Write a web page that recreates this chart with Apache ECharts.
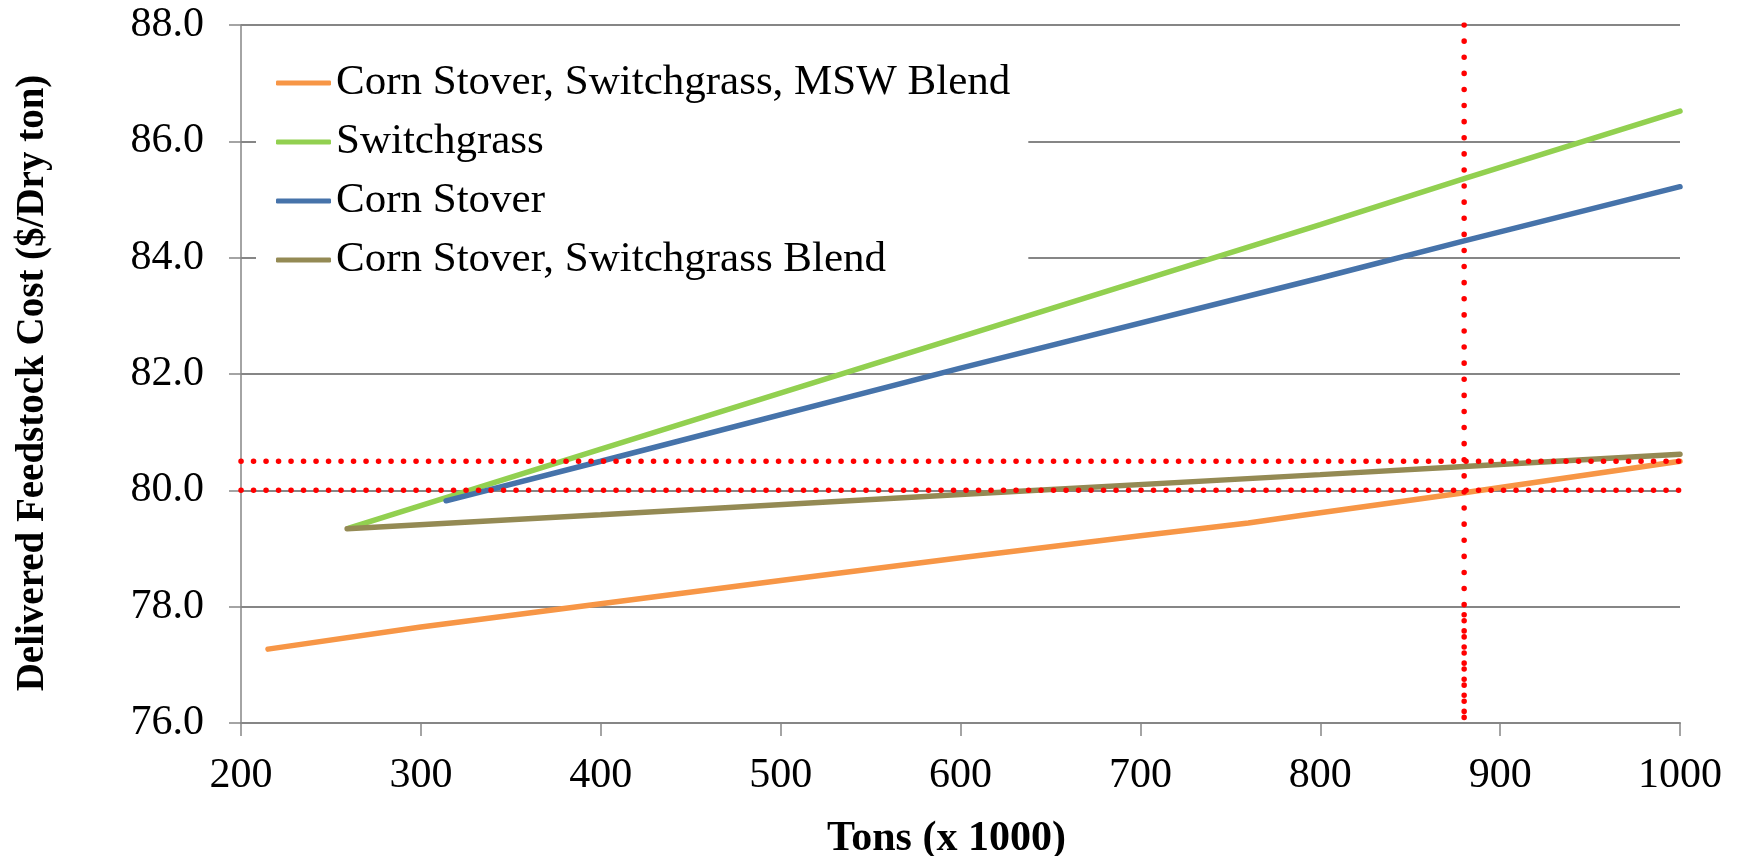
<!DOCTYPE html>
<html>
<head>
<meta charset="utf-8">
<title>Delivered Feedstock Cost</title>
<script src="https://cdn.jsdelivr.net/npm/echarts@6/dist/echarts.min.js"></script>
<style>
  html, body { margin: 0; padding: 0; background: #fff; }
  #chart { width: 1742px; height: 856px; }
</style>
</head>
<body>
<div id="chart"></div>
<script>
// values
const seriesNames = [
  'Corn Stover, Switchgrass, MSW Blend',
  'Switchgrass',
  'Corn Stover',
  'Corn Stover, Switchgrass Blend'
]
const seriesColors = ['#F79646', '#92D050', '#4673AA', '#948A54']

const mswBlendTons = [215, 300, 400, 500, 600, 700, 760, 790, 880, 1000]
const mswBlendCost = [77.27, 77.65, 78.05, 78.45, 78.84, 79.22, 79.44, 79.57, 79.96, 80.5]

const switchgrassTons = [260, 400, 600, 800, 880, 1000]
const switchgrassCost = [79.35, 80.71, 82.64, 84.57, 85.36, 86.52]

const cornStoverTons = [314, 400, 600, 800, 880, 1000]
const cornStoverCost = [79.82, 80.5, 82.1, 83.65, 84.29, 85.22]

const csSgBlendTons = [259, 400, 600, 800, 880, 1000]
const csSgBlendCost = [79.34, 79.58, 79.93, 80.27, 80.41, 80.62]

// red dotted reference lines
const refCosts = [80.0, 80.5]
const refTons = 880
const xRange = [200, 1000]
const yRange = [76, 88]

const font = "'Liberation Serif', 'Times New Roman', serif"

const pairs = (xs, ys) => xs.map((x, i) => [x, ys[i]])

const chart = echarts.init(document.getElementById('chart'))

const dotted = {
  color: '#FF0000',
  width: 5.5,
  type: [0.1, 12.4],
  cap: 'round'
}

const mainSeries = [
  [mswBlendTons, mswBlendCost],
  [switchgrassTons, switchgrassCost],
  [cornStoverTons, cornStoverCost],
  [csSgBlendTons, csSgBlendCost]
].map((d, i) => ({
  name: seriesNames[i],
  type: 'line',
  data: pairs(d[0], d[1]),
  showSymbol: false,
  symbol: 'none',
  lineStyle: { color: seriesColors[i], width: 5.5, cap: 'round' },
  itemStyle: { color: seriesColors[i] },
  z: 3,
  silent: true
}))

const refSeries = refCosts.map(c => ({
  type: 'line',
  data: [[xRange[0], c], [xRange[1], c]],
  showSymbol: false,
  symbol: 'none',
  lineStyle: dotted,
  z: 4,
  silent: true
}))

refSeries.push({
  type: 'line',
  data: [[refTons, yRange[1]], [refTons, yRange[0]]],
  showSymbol: false,
  symbol: 'none',
  lineStyle: Object.assign({}, dotted, { type: [0.1, 16] }),
  z: 4,
  silent: true
})
// lower part of the vertical line looks doubled in the original
refSeries.push({
  type: 'line',
  data: [[refTons, 78], [refTons, yRange[0]]],
  showSymbol: false,
  symbol: 'none',
  lineStyle: Object.assign({}, dotted, { type: [0.1, 16], dashOffset: 8 }),
  z: 4,
  silent: true
})

const option = {
  backgroundColor: '#fff',
  animation: false,
  grid: { left: 241, right: 62, top: 25, bottom: 133, containLabel: false, outerBoundsMode: 'none' },
  legend: {
    data: seriesNames,
    orient: 'vertical',
    left: 256,
    top: 50,
    padding: [10, 18, 14, 20],
    backgroundColor: '#fff',
    itemWidth: 55,
    itemHeight: 5,
    itemGap: 13,
    icon: 'roundRect',
    z: 10,
    textStyle: { fontFamily: font, fontSize: 43, color: '#000', lineHeight: 46 }
  },
  xAxis: {
    type: 'value',
    min: xRange[0],
    max: xRange[1],
    interval: 100,
    name: 'Tons (x 1000)',
    nameLocation: 'middle',
    nameGap: 95,
    nameTextStyle: {
      fontFamily: font, fontSize: 42, fontWeight: 'bold', color: '#000',
      padding: [0, 28, 0, 0]
    },
    axisLine: { lineStyle: { color: '#868686', width: 2 } },
    axisTick: { show: true, length: 13, lineStyle: { color: '#868686', width: 1.5 } },
    axisLabel: {
      fontFamily: font, fontSize: 42, color: '#000', margin: 32,
      formatter: v => String(v)
    },
    splitLine: { show: false }
  },
  yAxis: {
    type: 'value',
    min: yRange[0],
    max: yRange[1],
    interval: 2,
    name: 'Delivered Feedstock Cost ($/Dry ton)',
    nameLocation: 'middle',
    nameGap: 189,
    nameRotate: 90,
    nameTextStyle: {
      fontFamily: font, fontSize: 39, fontWeight: 'bold', color: '#000',
      padding: [0, 18, 0, 0]
    },
    axisLine: { show: true, lineStyle: { color: '#868686', width: 1.5 } },
    axisTick: { show: true, length: 12, lineStyle: { color: '#868686', width: 1.5 } },
    axisLabel: {
      fontFamily: font, fontSize: 42, color: '#000', margin: 37,
      formatter: v => v.toFixed(1)
    },
    splitLine: { show: true, lineStyle: { color: '#868686', width: 2 } }
  },
  series: mainSeries.concat(refSeries)
}

chart.setOption(option)
</script>
</body>
</html>
